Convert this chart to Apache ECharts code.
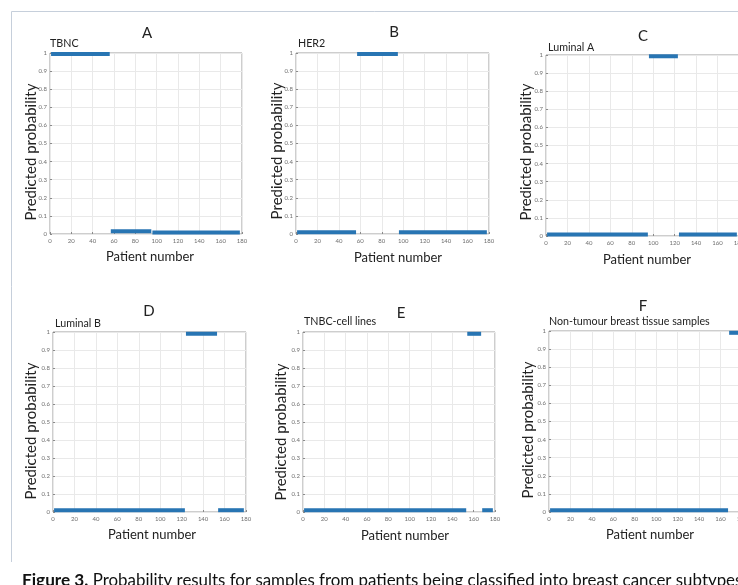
<!DOCTYPE html>
<html>
<head>
<meta charset="utf-8">
<title>Figure 3 – Predicted probability per subtype</title>
<script src="https://cdn.jsdelivr.net/npm/echarts@6/dist/echarts.min.js"></script>
<style>
  html, body { margin: 0; padding: 0; background: #ffffff; }
  #chart { width: 738px; height: 585px; }
</style>
</head>
<body>
<div id="chart"></div>
<script>
// Panel letters and the subtype each classifier output refers to
const panelLetters = ['A', 'B', 'C', 'D', 'E', 'F'];
const panelTitles = ['TBNC', 'HER2', 'Luminal A', 'Luminal B', 'TNBC-cell lines', 'Non-tumour breast tissue samples'];
const xTitle = 'Patient number';
const yTitle = 'Predicted probability';

// Axis ranges and tick steps
const xRange = [0, 180];
const xStep = 20;
const yRange = [0, 1];
const yStep = 0.1;

// Predicted probability runs: [first patient, last patient, probability]
const runsA = [[1, 56, 0.995], [57, 95, 0.015], [96, 178, 0.008]];
const runsB = [[1, 56, 0.01], [57, 95, 0.995], [96, 178, 0.01]];
const runsC = [[1, 95, 0.008], [96, 123, 0.993], [124, 178, 0.008]];
const runsD = [[1, 123, 0.01], [124, 153, 0.99], [154, 178, 0.01]];
const runsE = [[1, 153, 0.01], [154, 167, 0.99], [168, 178, 0.01]];
const runsF = [[1, 167, 0.01], [168, 178, 0.99]];
const panelRuns = [runsA, runsB, runsC, runsD, runsE, runsF];

const captionBold = 'Figure 3.';
const captionText = ' Probability results for samples from patients being classified into breast cancer subtypes';

// Layout of each sub-plot: plot box, letter, subtitle, axis title centres
const layout = [
  { left: 50,  top: 53,  width: 192, height: 181, letter: [147, 33],  sub: [50, 44],   xName: [150, 257], yName: [31.5, 152] },
  { left: 296, top: 53,  width: 193, height: 181, letter: [394, 32],  sub: [298, 44],  xName: [398, 258], yName: [277.5, 151] },
  { left: 546, top: 55,  width: 193, height: 181, letter: [643, 36],  sub: [548, 48],  xName: [647, 260], yName: [526.5, 152] },
  { left: 53,  top: 332, width: 193, height: 180, letter: [149, 311], sub: [55, 324],  xName: [152, 535], yName: [31.5, 431] },
  { left: 303, top: 332, width: 192, height: 180, letter: [401, 313], sub: [304, 322], xName: [405, 536], yName: [281.5, 432] },
  { left: 549, top: 331, width: 193, height: 181, letter: [643, 306], sub: [549, 322], xName: [650, 535], yName: [528.5, 430] }
];

const FONT = 'Lato, "Open Sans", sans-serif';
const LINE_BLUE = '#2875b3';
const TEXT_DARK = '#222222';

const grids = [], xAxes = [], yAxes = [], series = [], graphics = [];

layout.forEach((L, i) => {
  grids.push({
    left: L.left, top: L.top, width: L.width, height: L.height,
    outerBoundsMode: 'none',
    show: true, borderColor: '#9c9c9c', borderWidth: 1, backgroundColor: '#ffffff'
  });
  xAxes.push({
    type: 'value', gridIndex: i, min: xRange[0], max: xRange[1], interval: xStep,
    axisLine: { show: false },
    axisTick: { show: true, inside: true, length: 2, lineStyle: { color: '#8a8a8a' } },
    axisLabel: { fontFamily: FONT, fontSize: 6, color: '#6e6e6e', margin: 4 },
    splitLine: { show: true, lineStyle: { color: '#e9e9e9', width: 1 } }
  });
  yAxes.push({
    type: 'value', gridIndex: i, min: yRange[0], max: yRange[1], interval: yStep,
    axisLine: { show: false },
    axisTick: { show: true, inside: true, length: 2, lineStyle: { color: '#8a8a8a' } },
    axisLabel: { fontFamily: FONT, fontSize: 6, color: '#6e6e6e', margin: 3 },
    splitLine: { show: true, lineStyle: { color: '#e9e9e9', width: 1 } }
  });
  panelRuns[i].forEach((r) => {
    series.push({
      type: 'line', xAxisIndex: i, yAxisIndex: i,
      name: panelTitles[i],
      data: [[r[0], r[2]], [r[1], r[2]]],
      showSymbol: false, clip: false, silent: true,
      lineStyle: { color: LINE_BLUE, width: 4, cap: 'butt' }
    });
  });
  // panel letter and subtype caption above each plot
  graphics.push({
    type: 'text', x: L.letter[0], y: L.letter[1],
    style: { text: panelLetters[i], font: '15px ' + FONT, fill: TEXT_DARK, align: 'center', verticalAlign: 'middle' }
  });
  graphics.push({
    type: 'text', x: L.sub[0], y: L.sub[1],
    style: { text: panelTitles[i], font: '10.7px ' + FONT, fill: TEXT_DARK, align: 'left', verticalAlign: 'middle' }
  });
  // axis titles
  graphics.push({
    type: 'text', x: L.xName[0], y: L.xName[1],
    style: { text: xTitle, font: '13px ' + FONT, fill: TEXT_DARK, align: 'center', verticalAlign: 'middle' }
  });
  graphics.push({
    type: 'text', x: L.yName[0], y: L.yName[1], rotation: Math.PI / 2,
    style: { text: yTitle, font: '15px ' + FONT, fill: TEXT_DARK, align: 'center', verticalAlign: 'middle' }
  });
});

// Figure frame (top and left edges) and caption
graphics.push({
  type: 'polyline', silent: true,
  shape: { points: [[11.5, 562], [11.5, 11.5], [738, 11.5]] },
  style: { stroke: '#c6cfdb', lineWidth: 1, fill: null }
});
graphics.push({
  type: 'text', x: 22, y: 572,
  style: {
    text: '{b|' + captionBold + '}{r|' + captionText + '}',
    rich: {
      b: { font: 'bold 17.2px ' + FONT, fill: '#111111' },
      r: { font: '16.9px ' + FONT, fill: '#111111' }
    },
    align: 'left', verticalAlign: 'top'
  }
});

const chart = echarts.init(document.getElementById('chart'), null, { renderer: 'canvas' });
chart.setOption({
  animation: false,
  backgroundColor: '#ffffff',
  grid: grids,
  xAxis: xAxes,
  yAxis: yAxes,
  series: series,
  graphic: graphics
});
</script>
</body>
</html>
